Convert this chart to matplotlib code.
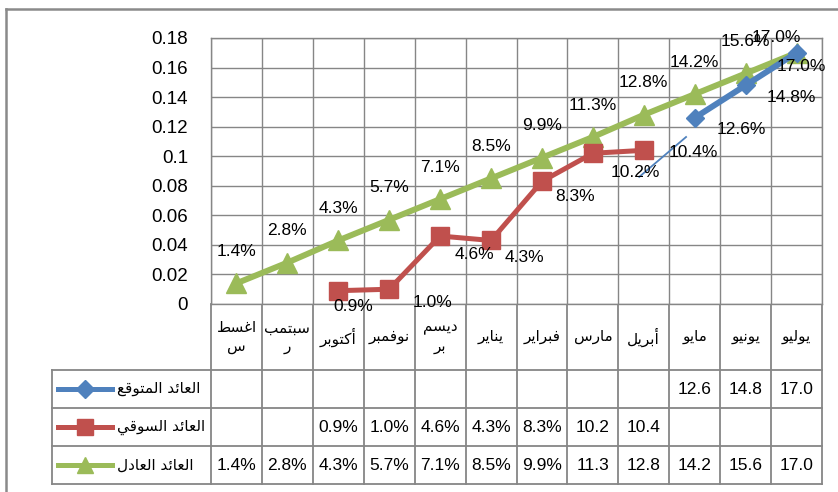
import matplotlib
matplotlib.use('Agg')
import matplotlib.pyplot as plt
from matplotlib.lines import Line2D
import numpy as np

# ---------------- data ----------------
month_lines = [['اغسط', 'س'], ['سبتمب', 'ر'], ['أكتوبر'], ['نوفمبر'], ['ديسم', 'بر'],
               ['يناير'], ['فبراير'], ['مارس'], ['أبريل'], ['مايو'], ['يونيو'], ['يوليو']]
series_names = ['العائد المتوقع', 'العائد السوقي', 'العائد العادل']
expected = [None] * 9 + [0.126, 0.148, 0.170]
market = [None, None, 0.009, 0.010, 0.046, 0.043, 0.083, 0.102, 0.104, None, None, None]
fair = [0.014, 0.028, 0.043, 0.057, 0.071, 0.085, 0.099, 0.113, 0.128, 0.142, 0.156, 0.170]
expected_tbl = [''] * 9 + ['12.6', '14.8', '17.0']
market_tbl = ['', '', '0.9%', '1.0%', '4.6%', '4.3%', '8.3%', '10.2', '10.4', '', '', '']
fair_tbl = ['1.4%', '2.8%', '4.3%', '5.7%', '7.1%', '8.5%', '9.9%', '11.3', '12.8', '14.2', '15.6', '17.0']
yticks = [0, 0.02, 0.04, 0.06, 0.08, 0.10, 0.12, 0.14, 0.16, 0.18]
# thin blue stroke drawn near April/May
stroke_x = [7.91, 8.83]
stroke_y = [0.086, 0.113]

# label offsets (pixels)
fair_off = [(0, 32)] * 11 + [(-20, 15)]
market_off = [None, None, (15, -16), (43, -13), (34, -18), (33, -17), (33, -15), (42, -19), (50, -2),
              None, None, None]
expected_off = [None] * 9 + [(47, -12), (46, -12), (5, -14)]

# ---------------- Arabic shaping ----------------
FORMS = {
    'ا': ('\uFE8D', '\uFE8E', None, None),
    'أ': ('\uFE83', '\uFE84', None, None),
    'ب': ('\uFE8F', '\uFE90', '\uFE91', '\uFE92'),
    'ت': ('\uFE95', '\uFE96', '\uFE97', '\uFE98'),
    'د': ('\uFEA9', '\uFEAA', None, None),
    'ر': ('\uFEAD', '\uFEAE', None, None),
    'س': ('\uFEB1', '\uFEB2', '\uFEB3', '\uFEB4'),
    'ط': ('\uFEC1', '\uFEC2', '\uFEC3', '\uFEC4'),
    'ع': ('\uFEC9', '\uFECA', '\uFECB', '\uFECC'),
    'غ': ('\uFECD', '\uFECE', '\uFECF', '\uFED0'),
    'ف': ('\uFED1', '\uFED2', '\uFED3', '\uFED4'),
    'ق': ('\uFED5', '\uFED6', '\uFED7', '\uFED8'),
    'ك': ('\uFED9', '\uFEDA', '\uFEDB', '\uFEDC'),
    'ل': ('\uFEDD', '\uFEDE', '\uFEDF', '\uFEE0'),
    'م': ('\uFEE1', '\uFEE2', '\uFEE3', '\uFEE4'),
    'ن': ('\uFEE5', '\uFEE6', '\uFEE7', '\uFEE8'),
    'و': ('\uFEED', '\uFEEE', None, None),
    'ي': ('\uFEF1', '\uFEF2', '\uFEF3', '\uFEF4'),
    'ئ': ('\uFE89', '\uFE8A', '\uFE8B', '\uFE8C'),
}


def shape(s):
    out = []
    n = len(s)
    for i, ch in enumerate(s):
        f = FORMS.get(ch)
        if f is None:
            out.append(ch)
            continue
        prev = s[i - 1] if i > 0 else None
        nxt = s[i + 1] if i < n - 1 else None
        jp = prev in FORMS and FORMS[prev][2] is not None
        jn = nxt in FORMS and f[2] is not None
        if jp and jn:
            c = f[3]
        elif jp:
            c = f[1]
        elif jn:
            c = f[2]
        else:
            c = f[0]
        out.append(c)
    return ''.join(reversed(out))


def arr(v):
    return np.array([np.nan if x is None else x for x in v], dtype=float)


# ---------------- layout ----------------
W, H = 838, 492
X0, X1, Y0, Y1 = 211, 822, 38, 304
TL = 52
ROWS = [304, 370, 408, 446, 484]
GRID = '#868686'
BLUE, RED, GREEN = '#4F81BD', '#C0504D', '#9BBB59'
NUMFONT = ['Liberation Sans', 'DejaVu Sans']
ARFONT = ['DejaVu Sans']

fig = plt.figure(figsize=(W / 100, H / 100), dpi=100)
fig.patch.set_facecolor('white')

ax = fig.add_axes([X0 / W, 1 - Y1 / H, (X1 - X0) / W, (Y1 - Y0) / H])
ax.set_zorder(3)
n = len(fair)
x = np.arange(n)
ax.set_xlim(-0.5, n - 0.5)
ax.set_ylim(0, 0.18)
ax.set_xticks(np.arange(-0.5, n, 1.0))
ax.set_xticklabels([])
ax.set_yticks(yticks)
ax.set_yticklabels(['%g' % round(v, 2) for v in yticks], fontfamily=NUMFONT, fontsize=13.5)
ax.tick_params(length=0, pad=16.5)
ax.grid(True, color=GRID, lw=1.0)
for sp in ax.spines.values():
    sp.set_color(GRID)
    sp.set_linewidth(1.0)

ax.plot(x, arr(fair), color=GREEN, lw=4.3, marker='^', ms=14, mec=GREEN, mfc=GREEN, zorder=4,
        clip_on=False)
ax.plot(x, arr(market), color=RED, lw=3.6, marker='s', ms=12.5, mec=RED, mfc=RED, zorder=5,
        clip_on=False)
ax.plot(x, arr(expected), color=BLUE, lw=4.3, marker='D', ms=9.5, mec=BLUE, mfc=BLUE, zorder=6,
        clip_on=False)
ax.plot(stroke_x, stroke_y, color=BLUE, lw=1.3, zorder=6)


def labels(vals, offs):
    for i, (v, o) in enumerate(zip(vals, offs)):
        if v is None or o is None:
            continue
        ax.annotate('%.1f%%' % (v * 100), (i, v), xytext=o, textcoords='offset pixels',
                    ha='center', va='center', fontsize=12.5, fontfamily=NUMFONT,
                    annotation_clip=False, zorder=8)


labels(fair, fair_off)
labels(market, market_off)
labels(expected, expected_off)

# ---------------- data table ----------------
unit = (X1 - X0) / n
xl = -0.5 - (X0 - TL) / unit
tax = fig.add_axes([TL / W, 1 - ROWS[-1] / H, (X1 - TL) / W, (ROWS[-1] - ROWS[0]) / H])
tax.set_xlim(xl, n - 0.5)
tax.set_ylim(ROWS[-1], ROWS[0])
tax.axis('off')
lk = dict(color=GRID, lw=1.3, solid_capstyle='projecting', clip_on=False)
for b in np.arange(-0.5, n, 1.0):
    tax.plot([b, b], [ROWS[0], ROWS[-1]], **lk)
tax.plot([xl, xl], [ROWS[1], ROWS[-1]], **lk)
for r in ROWS[1:]:
    tax.plot([xl, n - 0.5], [r, r], **lk)

hc = (ROWS[0] + ROWS[1]) / 2
for i, lines in enumerate(month_lines):
    txt = '\n'.join(shape(s) for s in lines)
    tax.text(i, hc, txt, ha='center', va='center', fontsize=11, fontfamily=ARFONT,
             linespacing=1.25)

tbl_rows = [expected_tbl, market_tbl, fair_tbl]
colors = [BLUE, RED, GREEN]
markers = [('D', 9), ('s', 11), ('^', 12)]
px_to_x = 1.0 / unit
for r, (vals, c, (mk, ms), name) in enumerate(zip(tbl_rows, colors, markers, series_names)):
    yc = (ROWS[r + 1] + ROWS[r + 2]) / 2
    for i, t in enumerate(vals):
        if t:
            tax.text(i, yc + 1, t, ha='center', va='center', fontsize=12.5, fontfamily=NUMFONT)
    kx0 = xl + (58 - TL) * px_to_x
    kx1 = xl + (112 - TL) * px_to_x
    tax.plot([kx0, kx1], [yc, yc], color=c, lw=3.6, clip_on=False)
    tax.plot([(kx0 + kx1) / 2], [yc], marker=mk, ms=ms, color=c, clip_on=False)
    tax.text(xl + (117 - TL) * px_to_x, yc, shape(name), ha='left', va='center', fontsize=11,
             fontfamily=ARFONT)

# outer chart border (left and top visible)
fig.add_artist(Line2D([6 / W, 6 / W], [0, 1 - 9 / H], transform=fig.transFigure, color='#8a8a8a', lw=1.8))
fig.add_artist(Line2D([6 / W, 1], [1 - 9 / H, 1 - 9 / H], transform=fig.transFigure, color='#8a8a8a', lw=1.8))

fig.savefig('out.png', dpi=100, facecolor='white')
